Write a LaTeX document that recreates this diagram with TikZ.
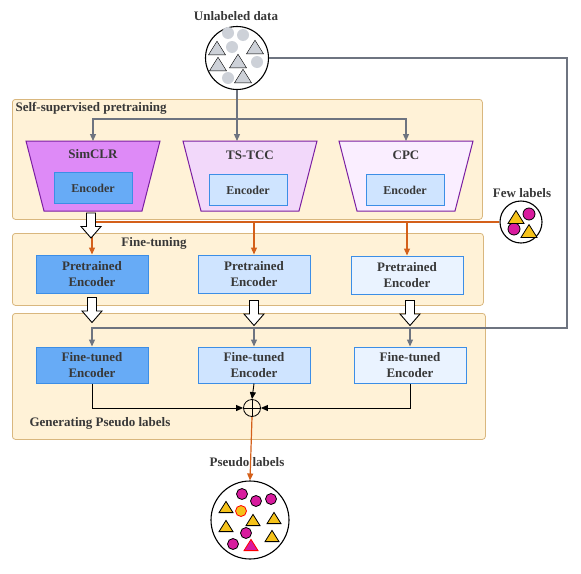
\documentclass[tikz,border=0pt]{standalone}
\usepackage{fontspec}
\setmainfont{Liberation Serif}
\usepackage{tikz}
\usetikzlibrary{arrows.meta,positioning}
\definecolor{txt}{HTML}{383838}
\definecolor{stagefill}{HTML}{FFF2D7}
\definecolor{stageline}{HTML}{D9B77E}
\definecolor{trapline}{HTML}{7B1FA2}
\definecolor{simclrfill}{HTML}{DE8AF7}
\definecolor{tstccfill}{HTML}{F2D8FA}
\definecolor{cpcfill}{HTML}{FAEEFF}
\definecolor{encline}{HTML}{3C8EE6}
\definecolor{encdark}{HTML}{67ABF6}
\definecolor{encmid}{HTML}{CFE4FF}
\definecolor{enclight}{HTML}{EAF3FF}
\definecolor{grayline}{HTML}{6E7480}
\definecolor{orangeline}{HTML}{D4601A}
\definecolor{dotgray}{HTML}{CDD1D8}
\definecolor{dotpink}{HTML}{D81B9E}
\definecolor{dotyellow}{HTML}{F5C21A}
\newcommand{\tri}[4]{\draw[#4] (#1-#3,#2+0.8*#3) -- (#1+#3,#2+0.8*#3) -- (#1,#2-0.8*#3) -- cycle;}
\begin{document}
\begin{tikzpicture}[x=1pt,y=-1pt,
  font=\fontsize{13}{16}\selectfont\bfseries,text=txt,
  >={Triangle[length=7pt,width=6pt]},
  stage/.style={draw=stageline,fill=stagefill,rounded corners=3pt,line width=0.8pt,anchor=north west,inner sep=0},
  trap/.style={draw=trapline,line width=1pt},
  enc/.style={draw=encline,line width=1pt,minimum width=78pt,minimum height=31pt,inner sep=0,font=\fontsize{12}{14}\selectfont\bfseries},
  block/.style={draw=encline,line width=1pt,minimum width=112pt,minimum height=38pt,align=center,inner sep=0},
  pool/.style={circle,draw,line width=1.1pt,inner sep=0},
  grayarrow/.style={->,grayline,line width=1.2pt},
  orangearrow/.style={->,orangeline,line width=1.2pt},
  sumarrow/.style={->,line width=0.9pt},
  hollow/.pic={\draw[fill=white,line width=0.9pt] (-4.5,-12.5) -- (4.5,-12.5) -- (4.5,1) -- (10,1)
    -- (0,12.5) -- (-10,1) -- (-4.5,1) -- cycle;},
  sum/.style={circle,draw,line width=0.8pt,minimum size=17pt,inner sep=0,
    path picture={\draw (path picture bounding box.north) -- (path picture bounding box.south)
      (path picture bounding box.west) -- (path picture bounding box.east);}}
]
\useasboundingbox (0,0) rectangle (581,573);

\node[stage,minimum width=470pt,minimum height=120pt] (ssl) at (12,99) {};
\node[stage,minimum width=471pt,minimum height=72pt] (ftn) at (12,233) {};
\node[stage,minimum width=473pt,minimum height=126pt] (gen) at (12,313) {};
\node[anchor=west] at (12,108) {Self-supervised pretraining};
\node at (154,243) {Fine-tuning};
\node[anchor=west] at (26,423) {Generating Pseudo labels};

\foreach \n/\x/\c in {simclr/93/simclrfill,tstcc/250/tstccfill,cpc/406/cpcfill}{
  \draw[trap,fill=\c] (\x-67,141) -- (\x+67,141) -- (\x+49,211) -- (\x-49,211) -- cycle;
  \coordinate (\n) at (\x,141);
}
\node at (93,154) {SimCLR};
\node at (250,155) {TS-TCC};
\node at (406,155) {CPC};
\node[enc,fill=encdark] (e1) at (93,188) {Encoder};
\node[enc,fill=encmid] (e2) at (248,190) {Encoder};
\node[enc,fill=encmid] (e3) at (405,190) {Encoder};

\node[block,fill=encdark] (pre1) at (92,274) {Pretrained\\Encoder};
\node[block,fill=encmid] (pre2) at (254,274) {Pretrained\\Encoder};
\node[block,fill=enclight] (pre3) at (407,275) {Pretrained\\Encoder};
\node[block,fill=encdark,minimum height=36pt] (ft1) at (92,365) {Fine-tuned\\Encoder};
\node[block,fill=encmid,minimum height=36pt] (ft2) at (254,365) {Fine-tuned\\Encoder};
\node[block,fill=enclight,minimum height=36pt] (ft3) at (410,365) {Fine-tuned\\Encoder};
\node[sum] (plus) at (252,408) {};

\node[pool,minimum size=63pt] (unl) at (237,58) {};
\node at (236,16) {Unlabeled data};
\node[pool,minimum size=42pt] (few) at (521,222) {};
\node at (522,193) {Few labels};
\node[pool,minimum size=78pt] (pseudo) at (250,520) {};
\node at (247,462) {Pseudo labels};

\foreach \x/\y in {228/33,243/35,232/47,257/62,228/78}
  \fill[dotgray] (\x,\y) circle (6);
\foreach \x/\y in {217/48,255/47,218/64,238/61,243/76}
  \tri{\x}{\y}{8.5}{fill=dotgray};
\foreach \x/\y in {529/214,514/229}
  \filldraw[fill=dotpink,draw=black,line width=0.8pt] (\x,\y) circle (6);
\foreach \x/\y in {516/217,529/231}
  \tri{\x}{\y}{8}{fill=dotyellow,draw=black,line width=0.8pt};
\foreach \x/\y in {242/494,256/501,271/499,246/533,233/544}
  \filldraw[fill=dotpink,draw=black,line width=0.8pt] (\x,\y) circle (5.5);
\foreach \x/\y in {226/507,253/520,274/518,226/526,272/536}
  \tri{\x}{\y}{7}{fill=dotyellow,draw=black,line width=0.8pt};
\filldraw[fill=dotyellow,draw=red,line width=0.8pt] (241,511) circle (5.5);
\tri{251}{545}{7}{fill=dotpink,draw=red,line width=0.8pt}

\coordinate (split) at (237,119);
\coordinate (back) at (567,328);
\draw[grayarrow] (unl.south) -- (unl.south |- tstcc);
\draw[grayarrow] (split) -| (simclr);
\draw[grayarrow] (split) -| (cpc);
\draw[grayarrow] (unl.east) -| (back) -| (ft1.north);
\draw[grayarrow] (back -| ft2) -- (ft2.north);
\draw[grayarrow] (back -| ft3) -- (ft3.north);

\draw[orangearrow] (few.west) -| (pre1.north);
\draw[orangearrow] (few.west -| pre2) -- (pre2.north);
\draw[orangearrow] (few.west -| pre3) -- (pre3.north);
\draw[orangearrow] (plus.south) -- (pseudo.north);

\draw[sumarrow] (ft1.south) |- (plus.west);
\draw[sumarrow] (ft2.south) -- (plus.north);
\draw[sumarrow] (ft3.south) |- (plus.east);

\pic at (91,225.5) {hollow};
\pic at (92,310) {hollow};
\pic at (254,313) {hollow};
\pic at (410,313) {hollow};
\end{tikzpicture}
\end{document}
